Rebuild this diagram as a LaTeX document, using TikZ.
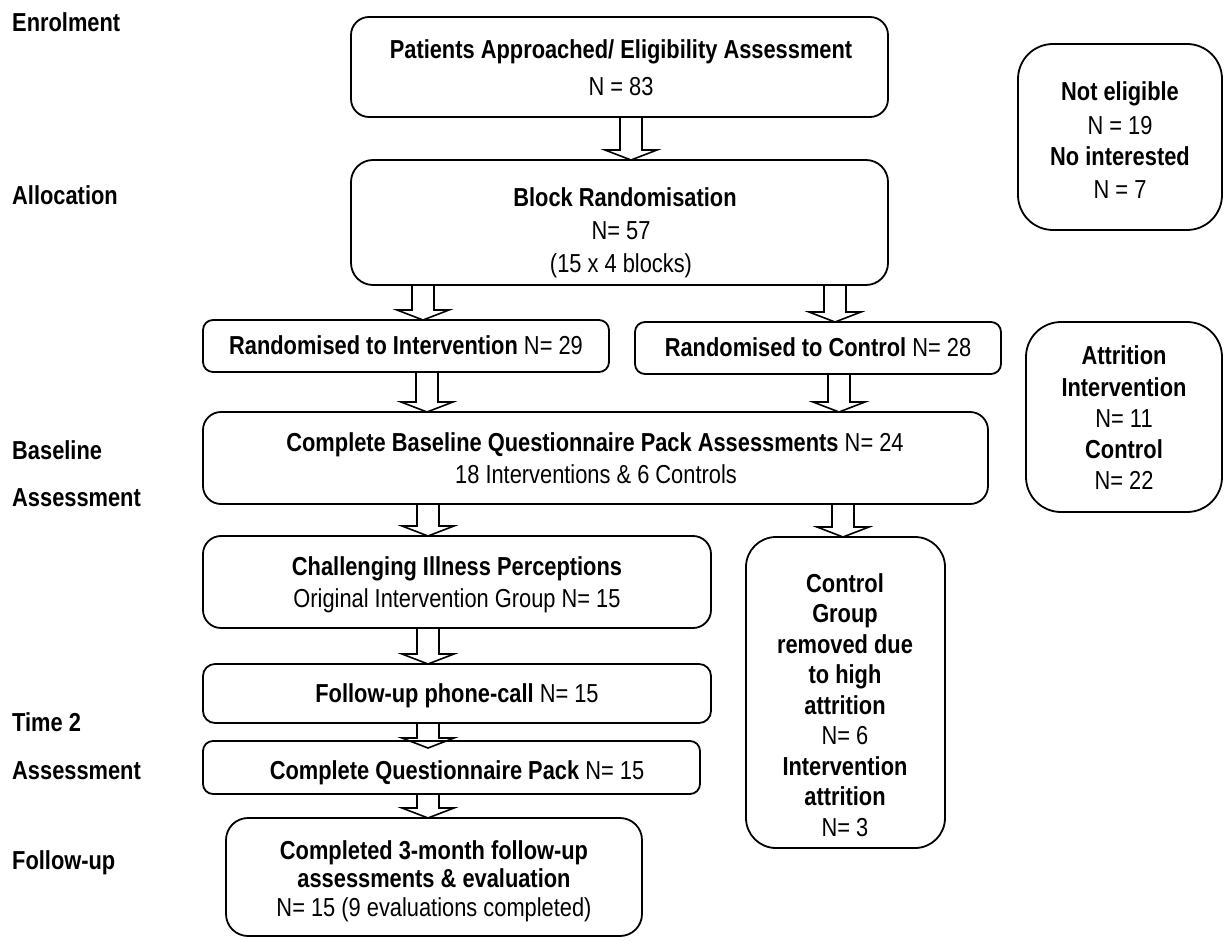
\documentclass[tikz,border=0pt]{standalone}
\usepackage{fontspec}
\setmainfont{Liberation Sans}[FakeStretch=0.84]
\usetikzlibrary{calc}
\newcommand\diagfont{\fontsize{26}{30}\selectfont}
\tikzset{
  box/.style={draw, line width=1.8pt, rounded corners=#1, inner sep=0pt, outer sep=0pt},
  box/.default=15pt,
  txt/.style={inner sep=0pt, font=\diagfont, anchor=base},
  lbl/.style={inner sep=0pt, font=\diagfont\bfseries, anchor=base west},
  fat/.style={draw, line width=1.6pt, line join=miter},
}
% hollow block arrow: #1 x position, #2 upper box, #3 lower box, #4 extra reach of the tip
\newcommand\fatarrow[4]{%
  \coordinate (ax) at (#1,0);
  \coordinate (atop) at (ax |- #2.south);
  \coordinate (atip) at ($(ax |- #3.north)+(0,#4)$);
  \draw[fat] ($(atop)+(-11,0)$) -- ($(atip)+(-11,-10)$) -- ($(atip)+(-26,-10)$)
    -- (atip) -- ($(atip)+(26,-10)$) -- ($(atip)+(11,-10)$) -- ($(atop)+(11,0)$);
}
\begin{document}
\begin{tikzpicture}[x=1pt,y=-1pt]
\fill[white] (0,0) rectangle (1224,941);
\useasboundingbox (0,0) rectangle (1224,941);

% stage labels
\node[lbl] (lenrol) at (12,32) {Enrolment};
\node[lbl] (lalloc) at (12,205) {Allocation};
\node[lbl] (lbase1) at (12,459) {Baseline};
\node[lbl] (lbase2) at (12,506) {Assessment};
\node[lbl] (ltime1) at (12,731) {Time 2};
\node[lbl] (ltime2) at (12,779) {Assessment};
\node[lbl] (lfollow) at (12,869) {Follow-up};

% boxes
\node[box=18pt, minimum width=537pt, minimum height=100pt] (b1) at (619.5,67) {};
\node[box=22pt, minimum width=537pt, minimum height=125pt] (b2) at (619.5,222.5) {};
\node[box=35pt, minimum width=204pt, minimum height=186pt] (ne) at (1120,137) {};
\node[box=10pt, minimum width=406pt, minimum height=52pt] (b4) at (406,346) {};
\node[box=10pt, minimum width=366pt, minimum height=52pt] (b5) at (818,348) {};
\node[box=35pt, minimum width=196pt, minimum height=190pt] (att) at (1124,417) {};
\node[box=18pt, minimum width=785pt, minimum height=92pt] (b7) at (595.5,458) {};
\node[box=18pt, minimum width=508pt, minimum height=92pt] (b8) at (457,582) {};
\node[box=30pt, minimum width=199pt, minimum height=311pt] (b9) at (845.5,692.5) {};
\node[box=12pt, minimum width=508pt, minimum height=59pt] (b10) at (457,693.5) {};
\node[box=10pt, minimum width=497pt, minimum height=53pt] (b11) at (451.5,767.5) {};
\node[box=22pt, minimum width=416pt, minimum height=118pt] (b12) at (434,877) {};

% box texts
\node[txt] (t1a) at (621,59) {\bfseries Patients Approached/ Eligibility Assessment};
\node[txt] (t1b) at (621,96) {N = 83};
\node[txt] (t2a) at (625,207) {\bfseries Block Randomisation};
\node[txt] (t2b) at (621,240) {N= 57};
\node[txt] (t2c) at (621,273) {(15 x 4 blocks)};
\node[txt] (tne1) at (1120,101) {\bfseries Not eligible};
\node[txt] (tne2) at (1120,135) {N = 19};
\node[txt] (tne3) at (1120,166) {\bfseries No interested};
\node[txt] (tne4) at (1120,199) {N = 7};
\node[txt] (t4) at (406,355) {\textbf{Randomised to Intervention} N= 29};
\node[txt] (t5) at (818,357) {\textbf{Randomised to Control} N= 28};
\node[txt] (tat1) at (1124,365) {\bfseries Attrition};
\node[txt] (tat2) at (1124,396) {\bfseries Intervention};
\node[txt] (tat3) at (1124,427) {N= 11};
\node[txt] (tat4) at (1124,458) {\bfseries Control};
\node[txt] (tat5) at (1124,489) {N= 22};
\node[txt] (t7a) at (595,451) {\textbf{Complete Baseline Questionnaire Pack Assessments} N= 24};
\node[txt] (t7b) at (596,483) {18 Interventions \& 6 Controls};
\node[txt] (t8a) at (457,575) {\bfseries Challenging Illness Perceptions};
\node[txt] (t8b) at (457,607) {Original Intervention Group N= 15};
\node[txt] (t9a) at (845,592) {\bfseries Control};
\node[txt] (t9b) at (845,622.5) {\bfseries Group};
\node[txt] (t9c) at (845,653) {\bfseries removed due};
\node[txt] (t9d) at (845,683.5) {\bfseries to high};
\node[txt] (t9e) at (845,714) {\bfseries attrition};
\node[txt] (t9f) at (845,744.5) {N= 6};
\node[txt] (t9g) at (845,775) {\bfseries Intervention};
\node[txt] (t9h) at (845,805.5) {\bfseries attrition};
\node[txt] (t9i) at (845,836) {N= 3};
\node[txt] (t10) at (457,702) {\textbf{Follow-up phone-call} N= 15};
\node[txt] (t11) at (457,779) {\textbf{Complete Questionnaire Pack} N= 15};
\node[txt] (t12a) at (434,859) {\bfseries Completed 3-month follow-up};
\node[txt] (t12b) at (434,887) {\bfseries assessments \& evaluation};
\node[txt] (t12c) at (434,916) {N= 15 (9 evaluations completed)};

% block arrows
\fatarrow{631}{b1}{b2}{0}
\fatarrow{423}{b2}{b4}{0}
\fatarrow{835}{b2}{b5}{0}
\fatarrow{427}{b4}{b7}{0}
\fatarrow{839}{b5}{b7}{0}
\fatarrow{428}{b7}{b8}{0}
\fatarrow{843}{b7}{b9}{0}
\fatarrow{428}{b8}{b10}{0}
\fatarrow{428}{b10}{b11}{7}
\fatarrow{428}{b11}{b12}{0}
\end{tikzpicture}
\end{document}
